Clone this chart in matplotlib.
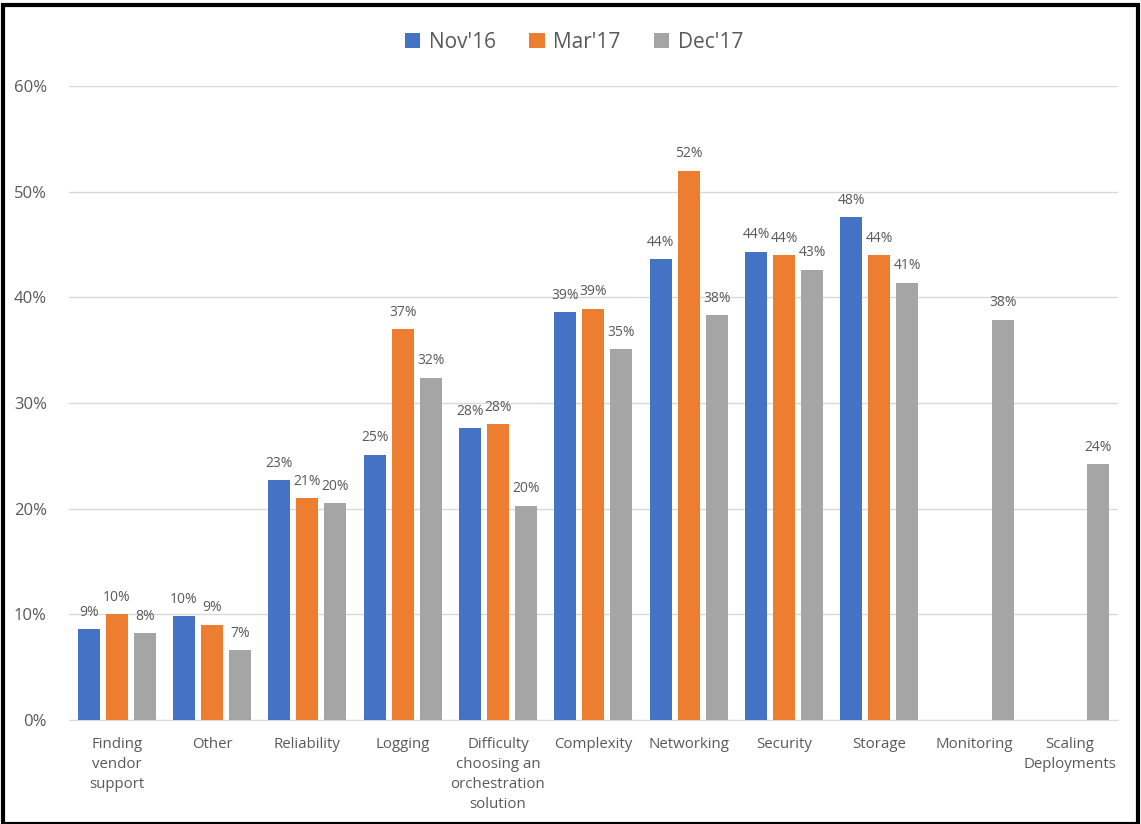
import numpy as np
import matplotlib.pyplot as plt
from matplotlib.patches import Rectangle

plt.rcParams['font.family'] = ['Open Sans', 'DejaVu Sans']

categories = ["Finding\nvendor\nsupport", "Other", "Reliability", "Logging",
              "Difficulty\nchoosing an\norchestration\nsolution", "Complexity",
              "Networking", "Security", "Storage", "Monitoring",
              "Scaling\nDeployments"]
series = ["Nov'16", "Mar'17", "Dec'17"]
nov16 = [8.6, 9.8, 22.7, 25.1, 27.6, 38.6, 43.6, 44.3, 47.6, None, None]
mar17 = [10.0, 9.0, 21.0, 37.0, 28.0, 38.9, 52.0, 44.0, 44.0, None, None]
dec17 = [8.2, 6.6, 20.5, 32.4, 20.3, 35.1, 38.3, 42.6, 41.4, 37.9, 24.2]
colors = ['#4472C4', '#ED7D31', '#A5A5A5']
txt = '#595959'

fig = plt.figure(figsize=(11.41, 8.24), dpi=100)
ax = fig.add_axes([0.0605, 0.1262, 0.9190, 0.7694])

x = np.arange(len(categories))
w = 0.23
step = 0.294
for i, (name, vals) in enumerate(zip(series, [nov16, mar17, dec17])):
    xs = [xi + (i - 1) * step for xi, v in zip(x, vals) if v is not None]
    vs = [v / 100 for v in vals if v is not None]
    bars = ax.bar(xs, vs, width=w, color=colors[i], label=name, zorder=3)
    for b, v in zip(bars, vs):
        ax.text(b.get_x() + b.get_width() / 2, v + 0.009, f"{round(v * 100):.0f}%",
                ha='center', va='bottom', fontsize=10, color=txt)

ax.set_xlim(-0.5, len(categories) - 0.5)
ax.set_ylim(0, 0.6)
ax.set_yticks(np.arange(0, 0.61, 0.1))
ax.set_yticklabels([f"{t}%" for t in range(0, 61, 10)], fontsize=12, color=txt)
ax.set_xticks(x)
ax.set_xticklabels(categories, fontsize=10.8, color=txt, linespacing=1.45)
ax.tick_params(length=0)
ax.tick_params(axis='y', pad=16)
ax.tick_params(axis='x', pad=12)
ax.grid(axis='y', color='#D9D9D9', linewidth=1, zorder=0)
for s in ['top', 'right', 'left']:
    ax.spines[s].set_visible(False)
ax.spines['bottom'].set_color('#D9D9D9')

leg = fig.legend(loc='center', bbox_to_anchor=(0.503, 0.949), ncol=3, frameon=False,
                 fontsize=15, handlelength=0.75, handleheight=0.75,
                 handletextpad=0.4, columnspacing=1.6)
for t in leg.get_texts():
    t.set_color(txt)

fig.patches.append(Rectangle((0.003, 0.0), 0.994, 0.994, transform=fig.transFigure,
                             fill=False, edgecolor='black', linewidth=3))

fig.savefig('out.png', dpi=100)
